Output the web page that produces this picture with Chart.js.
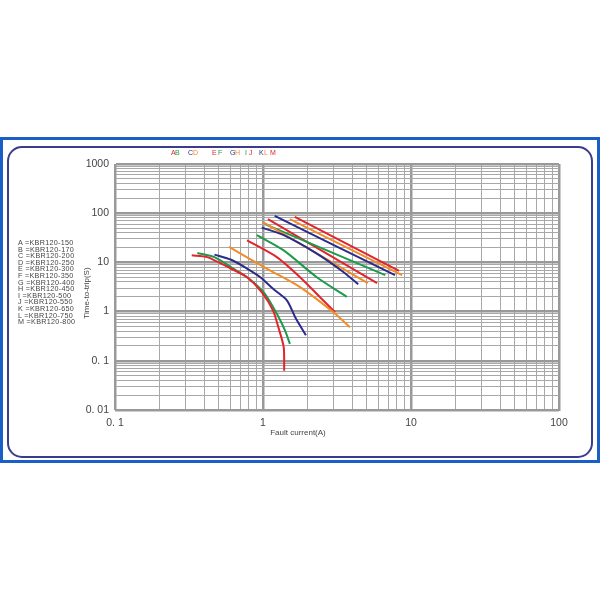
<!DOCTYPE html>
<html>
<head>
<meta charset="utf-8">
<script src="https://cdn.jsdelivr.net/npm/chart.js@4/dist/chart.umd.min.js"></script>
<style>
  html, body { margin:0; padding:0; background:#fff; width:600px; height:600px; overflow:hidden; }
  #blue { position:absolute; left:0; top:137px; width:600px; height:326px; background:#1a5ec8; }
  #white { position:absolute; left:3px; top:140px; width:594px; height:320px; background:#fff; }
  #frame { position:absolute; left:7px; top:146px; width:586px; height:312px; box-sizing:border-box;
           border:2px solid #3c3c8c; border-radius:15px; }
  #c { position:absolute; left:0; top:0; }
  .txt { position:absolute; font-family:"Liberation Sans", Arial, sans-serif; color:#444; white-space:nowrap; }
  #legend { left:18px; top:240px; font-size:7.2px; line-height:6.6px; letter-spacing:0.3px; }
  .lt { position:absolute; top:149px; font-family:"Liberation Sans", Arial, sans-serif; font-size:7px; }
  #ytitle { left:86px; top:293px; font-size:8px; transform:translate(-50%,-50%) rotate(-90deg); }
  #xtitle { left:298px; top:432px; font-size:8px; transform:translate(-50%,-50%); }
</style>
</head>
<body>
<div id="blue"></div>
<div id="white"></div>
<div id="frame"></div>
<canvas id="c" width="600" height="600"></canvas>
<div id="legend" class="txt"></div>
<div id="letters"></div>
<div id="ytitle" class="txt">Time-to-trip(S)</div>
<div id="xtitle" class="txt">Fault current(A)</div>
<script>
// ----- data (fault current in A, time-to-trip in s) -----
const seriesLetters = ['A','B','C','D','E','F','G','H','I','J','K','L','M'];
const seriesModels  = ['KBR120-150','KBR120-170','KBR120-200','KBR120-250','KBR120-300','KBR120-350','KBR120-400','KBR120-450','KBR120-500','KBR120-550','KBR120-650','KBR120-750','KBR120-800'];
const seriesColors  = ['#e3242b','#1e9a4c','#2b2b8c','#f28c28','#e3242b','#1e9a4c','#2b2b8c','#f28c28','#1e9a4c','#e3242b','#2b2b8c','#f28c28','#e3242b'];

const currentA = [0.33, 0.42, 0.60, 0.78, 0.98, 1.17, 1.27, 1.38, 1.39];
const timeA    = [13.9, 12.8, 7.6, 5.0, 2.5, 1.05, 0.48, 0.19, 0.063];
const currentB = [0.36, 0.47, 0.63, 0.81, 1.03, 1.24, 1.41, 1.52];
const timeB    = [15.5, 12.8, 7.5, 4.6, 2.3, 0.9, 0.41, 0.22];
const currentC = [0.47, 0.61, 0.78, 0.96, 1.17, 1.45, 1.65, 1.95];
const timeC    = [14.4, 11.3, 7.5, 5.0, 2.9, 1.7, 0.77, 0.33];
const currentD = [0.59, 1.06, 1.78, 2.99, 3.87];
const timeD    = [20.6, 7.5, 3.15, 0.97, 0.48];
const currentE = [0.78, 1.24, 1.78, 2.43, 3.07];
const timeE    = [28, 12.8, 5.0, 1.96, 0.97];
const currentF = [0.91, 1.38, 2.31, 3.68];
const timeF    = [35.7, 17.5, 5.0, 2.0];
const currentG = [0.98, 1.38, 2.31, 3.49, 4.40];
const timeG    = [51, 35.7, 15.1, 6.4, 3.6];
const currentH = [1.00, 5.1];
const timeH    = [66, 3.8];
const currentI = [1.03, 6.7];
const timeI    = [60, 5.5];
const currentJ = [1.08, 5.9];
const timeJ    = [76, 3.8];
const currentK = [1.20, 7.8];
const timeK    = [88, 5.5];
const currentL = [1.52, 8.7];
const timeL    = [76, 5.5];
const currentM = [1.64, 8.3];
const timeM    = [84, 6.7];

const xTickLabels = {0.1:'0. 1', 1:'1', 10:'10', 100:'100'};
const yTickLabels = {0.01:'0. 01', 0.1:'0. 1', 1:'1', 10:'10', 100:'100', 1000:'1000'};

// ----- build -----
const allCurrents = [currentA,currentB,currentC,currentD,currentE,currentF,currentG,currentH,currentI,currentJ,currentK,currentL,currentM];
const allTimes    = [timeA,timeB,timeC,timeD,timeE,timeF,timeG,timeH,timeI,timeJ,timeK,timeL,timeM];

const datasets = seriesLetters.map((L, i) => ({
  label: L,
  data: allCurrents[i].map((x, j) => ({x, y: allTimes[i][j]})),
  borderColor: seriesColors[i],
  borderWidth: 2,
  pointRadius: 0,
  showLine: true,
  fill: false,
  tension: 0.25
}));

// legend texts
document.getElementById('legend').innerHTML =
  seriesLetters.map((L, i) => L + ' =' + seriesModels[i]).join('<br>');
const letterX = [171,175,188,193,212,218,230,235,245,249,259,264,270];
document.getElementById('letters').innerHTML = seriesLetters.map((L, i) =>
  '<span class="lt" style="left:' + letterX[i] + 'px;color:' + seriesColors[i] + '">' + L + '</span>').join('');

function logGrid(minExp, maxExp) {
  const out = [];
  for (let e = minExp; e < maxExp; e++) {
    for (let s = 1; s <= 9; s++) out.push(+(s * Math.pow(10, e)).toPrecision(3));
  }
  out.push(Math.pow(10, maxExp));
  return out;
}
function isDecade(v) { const l = Math.log10(v); return Math.abs(l - Math.round(l)) < 1e-6; }
function lbl(map, v) {
  for (const k in map) { if (Math.abs(Math.log10(+k) - Math.log10(v)) < 1e-6) return map[k]; }
  return '';
}

const gridColor = ctx => ctx.tick && isDecade(ctx.tick.value) ? '#999999' : '#a8a8a8';
const gridWidth = ctx => ctx.tick && isDecade(ctx.tick.value) ? 2.5 : 1;

new Chart(document.getElementById('c'), {
  type: 'scatter',
  data: { datasets },
  options: {
    responsive: false,
    animation: false,
    devicePixelRatio: 1,
    layout: { padding: { left: 0, top: 164, right: 41, bottom: 0 } },
    plugins: { legend: { display: false }, tooltip: { enabled: false } },
    scales: {
      x: {
        type: 'logarithmic', min: 0.1, max: 100,
        afterBuildTicks: s => { s.ticks = logGrid(-1, 2).map(v => ({value: v, major: isDecade(v)})); },
        afterFit: s => { s.height = 190; },
        grid: { color: gridColor, lineWidth: gridWidth, drawTicks: false },
        border: { display: true, color: '#999', width: 1 },
        ticks: { autoSkip: false, maxRotation: 0, padding: 7, color: '#444',
                 font: { family: 'Liberation Sans', size: 10.5 },
                 callback: v => lbl(xTickLabels, v) }
      },
      y: {
        type: 'logarithmic', min: 0.01, max: 1000,
        afterBuildTicks: s => { s.ticks = logGrid(-2, 3).map(v => ({value: v, major: isDecade(v)})); },
        afterFit: s => { s.width = 115; },
        grid: { color: gridColor, lineWidth: gridWidth, drawTicks: false },
        border: { display: true, color: '#999', width: 1 },
        ticks: { autoSkip: false, padding: 6, color: '#444',
                 font: { family: 'Liberation Sans', size: 10.5 },
                 callback: v => lbl(yTickLabels, v) }
      }
    }
  }
});
</script>
</body>
</html>
